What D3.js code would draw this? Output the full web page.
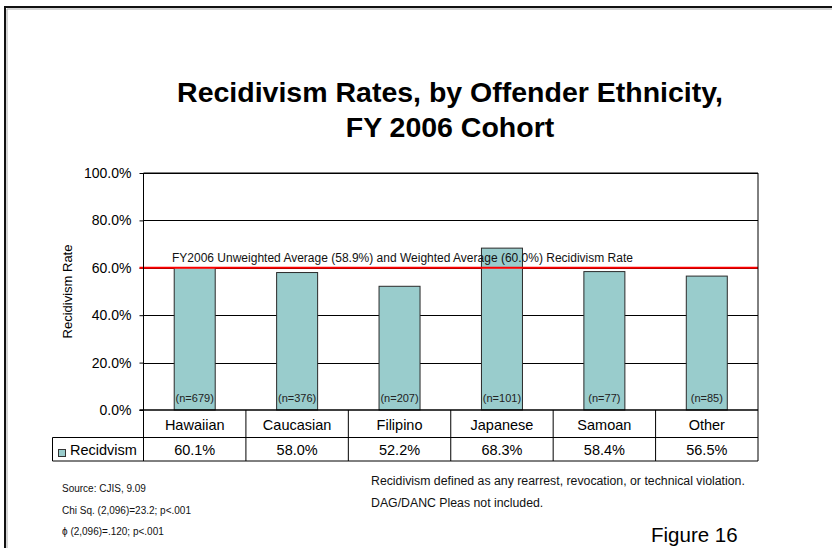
<!DOCTYPE html>
<html>
<head>
<meta charset="utf-8">
<script src="https://cdn.jsdelivr.net/npm/d3@7"></script>
<style>
  body { margin: 0; background: #fff; }
  svg { display: block; font-family: Arial, "Liberation Sans", sans-serif; }
</style>
</head>
<body>
<svg id="chart" width="832" height="548"></svg>
<script>
// Recidivism rate (%) and cohort size per offender ethnicity, FY 2006
const categories = ["Hawaiian", "Caucasian", "Filipino", "Japanese", "Samoan", "Other"];
const rates = [60.1, 58.0, 52.2, 68.3, 58.4, 56.5];
const counts = [679, 376, 207, 101, 77, 85];
const yTicks = [0, 20, 40, 60, 80, 100];
const seriesName = "Recidvism";
const unweightedAverage = 58.9;
const weightedAverage = 60.0;
const titleLines = ["Recidivism Rates, by Offender Ethnicity,", "FY 2006 Cohort"];
const notesLeft = ["Source: CJIS, 9.09", "Chi Sq. (2,096)=23.2; p<.001", "\u03d5 (2,096)=.120; p<.001"];
const notesRight = ["Recidivism defined as any rearrest, revocation, or technical violation.", "DAG/DANC Pleas not included."];
const figureLabel = "Figure 16";

const svg = d3.select("#chart");
const pct = d3.format(".1f");

const plot = { left: 143.5, right: 758, top: 173, bottom: 410 };
const table = { left: 52.5, row1: 437.5, bottom: 461 };

const x = d3.scaleBand().domain(categories).range([plot.left, plot.right]).padding(0);
const y = d3.scaleLinear().domain([0, 100]).range([plot.bottom, plot.top]);
const barW = 41;

// outer frame (only top and left edges fall inside the view)
const frame = svg.append("g");
frame.append("path").attr("d", "M5,548V7H832").attr("fill", "none").attr("stroke", "#111").attr("stroke-width", 2);
frame.append("path").attr("d", "M7,548V9H832").attr("fill", "none").attr("stroke", "#aaa").attr("stroke-width", 1);

// title
svg.append("text")
  .attr("x", 450).attr("y", 102)
  .attr("text-anchor", "middle")
  .attr("font-size", 28.5).attr("font-weight", "bold")
  .selectAll("tspan").data(titleLines).join("tspan")
  .attr("x", 450).attr("dy", (d, i) => i === 0 ? 0 : 35)
  .text(d => d);

// gridlines
svg.append("g")
  .selectAll("line").data(yTicks.filter(t => t > 0)).join("line")
  .attr("x1", plot.left).attr("x2", plot.right)
  .attr("y1", d => Math.round(y(d)) + 0.5).attr("y2", d => Math.round(y(d)) + 0.5)
  .attr("stroke", "#000").attr("stroke-width", 1);

// y axis
const yAxis = d3.axisLeft(y).tickValues(yTicks).tickSize(4).tickPadding(8).tickFormat(d => pct(d) + "%");
const gy = svg.append("g").attr("transform", `translate(${plot.left},0)`).call(yAxis);
gy.select(".domain").remove();
gy.selectAll(".tick line").attr("stroke", "#000");
gy.selectAll(".tick text").attr("font-size", 14).attr("font-family", "Arial, 'Liberation Sans', sans-serif").attr("fill", "#000");

svg.append("text")
  .attr("transform", `translate(67,${(plot.top + plot.bottom) / 2}) rotate(-90)`)
  .attr("text-anchor", "middle").attr("dy", "0.35em")
  .attr("font-size", 13)
  .text("Recidivism Rate");

// bars
svg.append("g")
  .selectAll("rect").data(categories).join("rect")
  .attr("x", d => x(d) + x.bandwidth() / 2 - barW / 2)
  .attr("width", barW)
  .attr("y", (d, i) => y(rates[i]))
  .attr("height", (d, i) => plot.bottom - y(rates[i]))
  .attr("fill", "#99cccc")
  .attr("stroke", "#2a2a2a").attr("stroke-width", 1);

// sample sizes
svg.append("g")
  .selectAll("text").data(categories).join("text")
  .attr("x", d => x(d) + x.bandwidth() / 2)
  .attr("y", 402)
  .attr("text-anchor", "middle")
  .attr("font-size", 11).attr("fill", "#222")
  .text((d, i) => `(n=${counts[i]})`);

// weighted average reference line
svg.append("line")
  .attr("x1", plot.left - 4).attr("x2", plot.right)
  .attr("y1", y(weightedAverage)).attr("y2", y(weightedAverage))
  .attr("stroke", "#ff0000").attr("stroke-width", 2);
svg.append("text")
  .attr("x", 172).attr("y", y(weightedAverage) - 6)
  .attr("font-size", 12).attr("fill", "#111")
  .text(`FY2006 Unweighted Average (${pct(unweightedAverage)}%) and Weighted Average (${pct(weightedAverage)}%) Recidivism Rate`);

// plot frame
svg.append("path")
  .attr("d", `M${plot.left},${table.bottom}V${plot.top}H${plot.right}V${table.bottom}`)
  .attr("fill", "none").attr("stroke", "#000").attr("stroke-width", 1);
svg.append("line")
  .attr("x1", plot.left - 4).attr("x2", plot.right)
  .attr("y1", plot.bottom).attr("y2", plot.bottom)
  .attr("stroke", "#000").attr("stroke-width", 1.5);

// data table
const tbl = svg.append("g").attr("stroke", "#000").attr("stroke-width", 1).attr("fill", "none");
tbl.append("path").attr("d", `M${table.left},${table.row1}H${plot.right}M${table.left},${table.bottom}H${plot.right}M${table.left},${table.row1}V${table.bottom}`);
tbl.selectAll("line.sep").data(categories.slice(1)).join("line")
  .attr("class", "sep")
  .attr("x1", d => x(d)).attr("x2", d => x(d))
  .attr("y1", plot.bottom).attr("y2", table.bottom);

svg.append("g")
  .selectAll("text").data(categories).join("text")
  .attr("x", d => x(d) + x.bandwidth() / 2)
  .attr("y", 430)
  .attr("text-anchor", "middle").attr("font-size", 14.5)
  .text(d => d);
svg.append("g")
  .selectAll("text").data(categories).join("text")
  .attr("x", d => x(d) + x.bandwidth() / 2)
  .attr("y", 454.5)
  .attr("text-anchor", "middle").attr("font-size", 14.5)
  .text((d, i) => pct(rates[i]) + "%");

// legend key in the table
svg.append("rect").attr("x", 58.5).attr("y", 449.5).attr("width", 7).attr("height", 7)
  .attr("fill", "#99cccc").attr("stroke", "#333");
svg.append("text").attr("x", 70).attr("y", 454.5).attr("font-size", 14.5).text(seriesName);

// notes
svg.append("g").selectAll("text").data(notesLeft).join("text")
  .attr("x", 62).attr("y", (d, i) => 492 + i * 21.5)
  .attr("font-size", 10).attr("fill", "#111")
  .text(d => d);
svg.append("g").selectAll("text").data(notesRight).join("text")
  .attr("x", 371).attr("y", (d, i) => 485 + i * 22)
  .attr("font-size", 12.3).attr("fill", "#111")
  .text(d => d);
svg.append("text").attr("x", 651).attr("y", 542).attr("font-size", 20.5).text(figureLabel);
</script>
</body>
</html>
